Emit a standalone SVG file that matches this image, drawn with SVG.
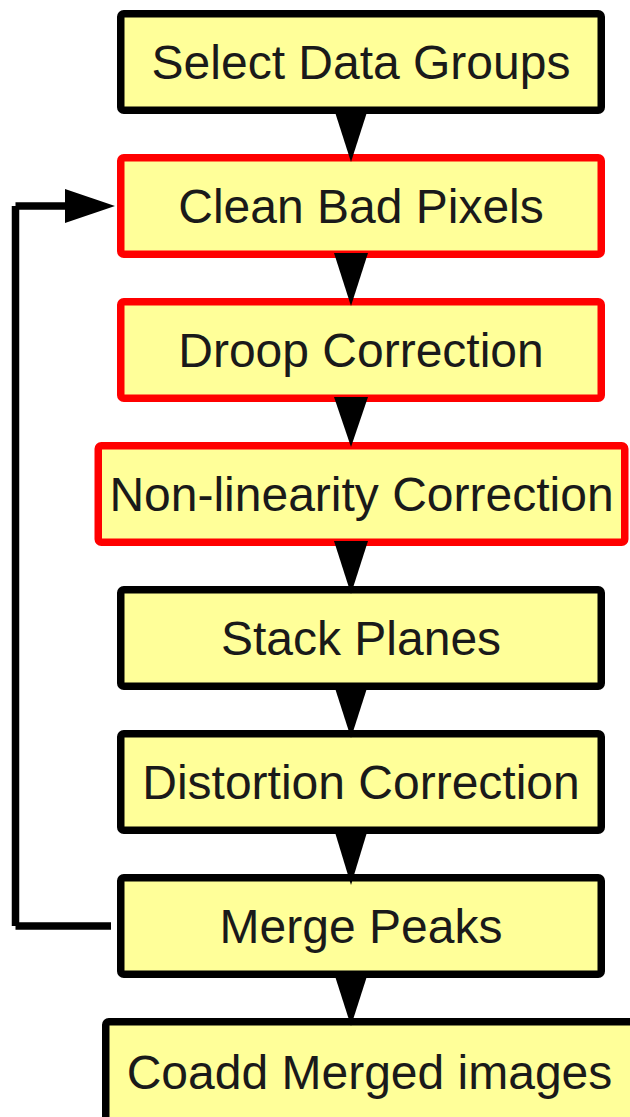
<svg xmlns="http://www.w3.org/2000/svg" width="630" height="1117" viewBox="0 0 630 1117">
<defs>
<style>
.box{fill:#ffff99;stroke-width:7.5}
.blk{stroke:#000000}
.red{stroke:#ff0000}
.lbl{font-family:"Liberation Sans",Arial,sans-serif;font-size:48px;fill:#1a1a1a;text-anchor:middle}
.ln{stroke:#000000;stroke-width:7.5;fill:none;stroke-linecap:butt}
.ah{fill:#000000;stroke:none}
</style>
</defs>
<rect x="0" y="0" width="630" height="1117" fill="#ffffff"/>
<g id="n1"><rect class="box blk" x="120.75" y="13.75" width="480.5" height="96.5" rx="3"/><text class="lbl" x="361" y="79">Select Data Groups</text></g>
<g id="n2"><rect class="box red" x="120.75" y="157.75" width="480.5" height="96.5" rx="3"/><text class="lbl" x="361" y="223">Clean Bad Pixels</text></g>
<g id="n3"><rect class="box red" x="120.75" y="301.75" width="480.5" height="96.5" rx="3"/><text class="lbl" x="361" y="367">Droop Correction</text></g>
<g id="n4"><rect class="box red" x="98.25" y="445.75" width="526.5" height="96.5" rx="3"/><text class="lbl" x="361.5" y="511">Non-linearity Correction</text></g>
<g id="n5"><rect class="box blk" x="120.75" y="589.75" width="480.5" height="96.5" rx="3"/><text class="lbl" x="361" y="655">Stack Planes</text></g>
<g id="n6"><rect class="box blk" x="120.75" y="733.75" width="480.5" height="96.5" rx="3"/><text class="lbl" x="361" y="799">Distortion Correction</text></g>
<g id="n7"><rect class="box blk" x="120.75" y="877.75" width="480.5" height="96.5" rx="3"/><text class="lbl" x="361" y="943">Merge Peaks</text></g>
<g id="n8"><rect class="box blk" x="105.75" y="1021.75" width="530" height="110" rx="3"/><text class="lbl" x="369.5" y="1089">Coadd Merged images</text></g>
<g id="connectors">
<polygon class="ah" points="334,109 368,109 351,162"/>
<polygon class="ah" points="334,253 368,253 351,306"/>
<polygon class="ah" points="334,397 368,397 351,447"/>
<polygon class="ah" points="334,541 368,541 351,594"/>
<polygon class="ah" points="334,685 368,685 351,738"/>
<polygon class="ah" points="334,829 368,829 351,885"/>
<polygon class="ah" points="334,973 368,973 351,1026"/>
<line class="ln" x1="111" y1="926" x2="15.5" y2="926"/>
<line class="ln" x1="15.5" y1="926" x2="15.5" y2="206"/>
<line class="ln" x1="15.5" y1="206" x2="66" y2="206"/>
<polygon class="ah" points="65,189 115,206 65,223"/>
</g>
</svg>
